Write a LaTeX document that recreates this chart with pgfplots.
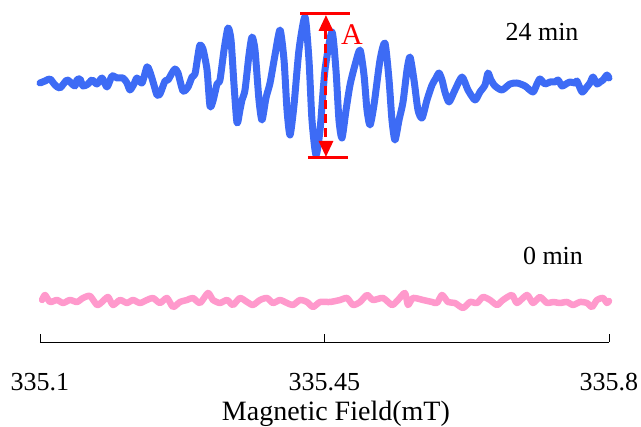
\documentclass[border=0pt]{standalone}
\usepackage{fontspec}
\setmainfont{Liberation Serif}
\usepackage{pgfplots}
\pgfplotsset{compat=1.18}
\usetikzlibrary{arrows.meta}
\definecolor{sigblue}{HTML}{3D6BF5}
\definecolor{sigpink}{HTML}{FF99CC}
\definecolor{annred}{HTML}{FF0000}

\begin{document}
\begin{tikzpicture}
\useasboundingbox (0,0) rectangle (641pt,427pt);
\begin{axis}[
  at={(40pt,85pt)}, anchor=south west,
  width=569pt, height=332pt, scale only axis,
  xmin=335.1, xmax=335.8, ymin=0, ymax=332,
  axis x line*=bottom, axis y line=none,
  xtick={335.1,335.45,335.8},
  xticklabels={335.1,335.45,335.8},
  tick align=inside, major tick length=8pt,
  tick style={black, line width=0.8pt},
  x axis line style={black, line width=0.8pt},
  ytick=\empty,
  ticklabel style={font=\fontsize{26}{30}\selectfont},
  xticklabel style={yshift=-28pt},
  xlabel={Magnetic Field(mT)},
  xlabel style={font=\fontsize{28}{30}\selectfont, at={(axis description cs:0.52,0)}, anchor=north, yshift=-56pt},
  clip=false,
]
% 0 min
\addplot[sigpink, line width=6.5pt, line join=round, line cap=round, smooth, tension=0.4] table {
335.1025 42
335.1062 47
335.1123 40
335.1209 42
335.1283 39
335.1369 42
335.1455 40
335.1529 44
335.1615 46
335.1701 37
335.1763 40
335.1837 45
335.1898 37
335.1984 42
335.2070 39
335.2144 42
335.2230 39
335.2316 42
335.2390 44
335.2476 39
335.2562 44
335.2636 35
335.2722 40
335.2808 42
335.2882 44
335.2968 39
335.3067 49
335.3128 42
335.3214 39
335.3301 42
335.3374 37
335.3460 44
335.3547 40
335.3620 37
335.3707 42
335.3793 44
335.3866 39
335.3953 42
335.4039 39
335.4112 37
335.4199 42
335.4285 40
335.4359 35
335.4445 40
335.4568 40
335.4691 42
335.4777 44
335.4851 37
335.4937 40
335.5023 47
335.5097 42
335.5220 44
335.5330 37
335.5404 42
335.5490 49
335.5527 37
335.5589 44
335.5712 42
335.5823 40
335.5884 39
335.5946 47
335.6019 40
335.6105 39
335.6204 34
335.6290 40
335.6376 39
335.6450 45
335.6536 42
335.6622 37
335.6696 42
335.6807 47
335.6868 39
335.6991 47
335.7065 39
335.7151 45
335.7237 39
335.7311 40
335.7397 39
335.7483 40
335.7557 37
335.7643 40
335.7729 39
335.7791 35
335.7852 42
335.7926 44
335.7975 39
335.8000 41
};
% 24 min
\addplot[sigblue, line width=7pt, line join=round, line cap=round, smooth, tension=0.4] table {
335.1000 259
335.1062 261
335.1123 263
335.1185 257
335.1246 254
335.1332 262
335.1394 258
335.1431 256
335.1455 262
335.1492 263
335.1529 256
335.1591 258
335.1640 262
335.1701 258
335.1763 264
335.1824 255
335.1886 266
335.1947 264
335.2021 264
335.2070 259
335.2107 252
335.2156 258
335.2193 264
335.2255 259
335.2316 275
335.2353 270
335.2402 257
335.2439 247
335.2476 248
335.2538 261
335.2575 262
335.2624 269
335.2661 273
335.2698 269
335.2759 251
335.2821 255
335.2870 265
335.2907 268
335.2944 287
335.2968 297
335.3005 293
335.3055 272
335.3091 236
335.3128 241
335.3178 258
335.3214 262
335.3264 292
335.3313 314
335.3350 302
335.3387 257
335.3424 219
335.3460 232
335.3485 242
335.3522 252
335.3571 287
335.3608 305
335.3645 292
335.3694 242
335.3731 222
335.3780 244
335.3830 259
335.3891 287
335.3953 312
335.4002 282
335.4039 232
335.4076 207
335.4125 237
335.4186 292
335.4260 325
335.4309 282
335.4346 222
335.4395 187
335.4445 212
335.4506 272
335.4592 310
335.4641 272
335.4678 222
335.4715 204
335.4765 232
335.4814 257
335.4875 277
335.4937 292
335.4986 267
335.5023 232
335.5060 217
335.5109 237
335.5183 282
335.5244 299
335.5294 262
335.5330 222
335.5367 202
335.5417 222
335.5466 240
335.5515 272
335.5552 285
335.5601 262
335.5650 232
335.5700 224
335.5761 242
335.5823 257
335.5872 264
335.5909 269
335.5946 262
335.5982 250
335.6032 240
335.6105 252
335.6192 265
335.6265 252
335.6352 242
335.6413 250
335.6475 257
335.6511 269
335.6548 262
335.6598 256
335.6684 252
335.6782 258
335.6868 259
335.6967 256
335.7065 250
335.7114 258
335.7151 263
335.7213 258
335.7274 260
335.7336 260
335.7373 262
335.7422 256
335.7471 258
335.7520 260
335.7582 259
335.7606 261
335.7668 250
335.7717 254
335.7766 259
335.7803 265
335.7852 258
335.7889 260
335.7926 262
335.7975 267
335.8000 264
};
% amplitude annotation
\draw[annred, line width=3pt] (axis cs:335.4199,328) -- (axis cs:335.4814,328);
\draw[annred, line width=3pt] (axis cs:335.4297,184) -- (axis cs:335.4789,184);
\draw[annred, line width=3pt, dash pattern=on 9pt off 5pt,
  {Triangle[width=14pt,length=16pt]}-{Triangle[width=14pt,length=16pt]}]
  (axis cs:335.4518,327) -- (axis cs:335.4518,185);
\node[annred, font=\fontsize{30}{32}\selectfont] at (axis cs:335.4838,307) {A};
\node[font=\fontsize{26}{30}\selectfont] at (axis cs:335.7176,310) {24 min};
\node[font=\fontsize{26}{30}\selectfont] at (axis cs:335.7311,86) {0 min};
\end{axis}
\end{tikzpicture}
\end{document}
